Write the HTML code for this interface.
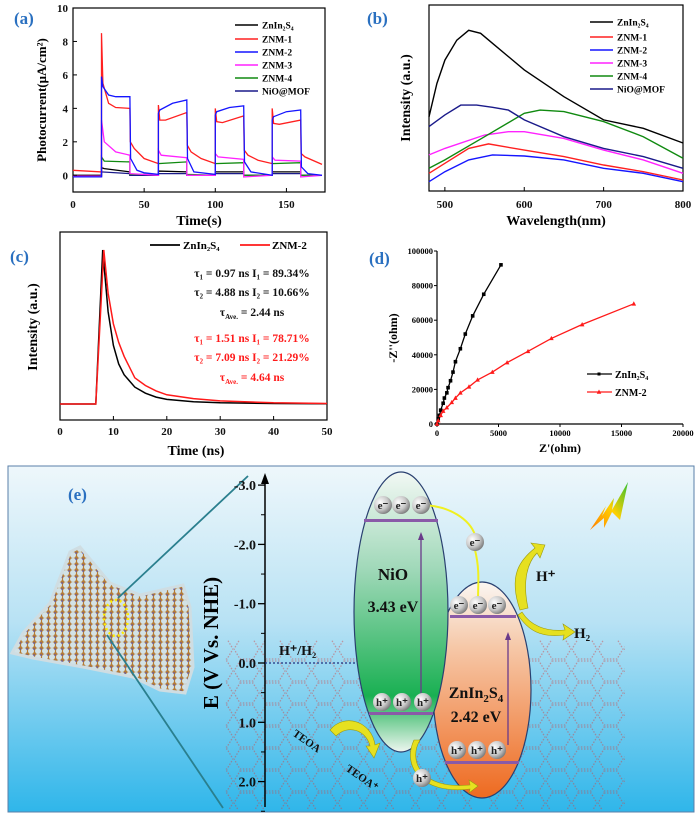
<!DOCTYPE html>
<html><head><meta charset="utf-8"><style>
html,body{margin:0;padding:0;background:#fff;}
svg{display:block;font-family:"Liberation Serif",serif;}
.t{font-weight:bold;font-size:11px;fill:#111;}
</style></head><body>
<svg id="fig" width="700" height="814" viewBox="0 0 700 814" xmlns="http://www.w3.org/2000/svg">
<defs>
<linearGradient id="bg" x1="0" y1="0" x2="0" y2="1"><stop offset="0" stop-color="#eef7fb"/><stop offset="0.45" stop-color="#b8e2f4"/><stop offset="1" stop-color="#2fb6ea"/></linearGradient>
<linearGradient id="nio" x1="0" y1="0" x2="0" y2="1"><stop offset="0" stop-color="#f2f8f4"/><stop offset="0.35" stop-color="#9fd8b8"/><stop offset="0.8" stop-color="#19b052"/><stop offset="1" stop-color="#eef6f0"/></linearGradient>
<linearGradient id="zis" x1="0" y1="0" x2="0" y2="1"><stop offset="0" stop-color="#faf6f2"/><stop offset="0.3" stop-color="#f6c8a8"/><stop offset="1" stop-color="#ee6a20"/></linearGradient>
<radialGradient id="ball" cx="0.35" cy="0.35" r="0.7"><stop offset="0" stop-color="#ffffff"/><stop offset="0.6" stop-color="#c8c8c8"/><stop offset="1" stop-color="#7a7a7a"/></radialGradient>
<linearGradient id="bolt" x1="0" y1="1" x2="1" y2="0"><stop offset="0" stop-color="#ff7a00"/><stop offset="0.5" stop-color="#ffd000"/><stop offset="1" stop-color="#30c030"/></linearGradient>
<pattern id="mesh" width="7" height="6" patternUnits="userSpaceOnUse"><rect width="7" height="6" fill="#b57b35"/><circle cx="3" cy="3" r="3" fill="#d2e2e6"/><circle cx="6" cy="1" r="0.8" fill="#4a4ac0"/></pattern>
<pattern id="mof" width="26" height="22" patternUnits="userSpaceOnUse"><polygon points="6,1 19,1 25,11 19,21 6,21 0,11" fill="none" stroke="#d04040" stroke-width="1.3" stroke-dasharray="1.5 1.5" opacity="0.75"/></pattern>
</defs>
<g id="pa"></g>
<g id="pb"></g>
<g id="pc"></g>
<g id="pd"></g>
<g id="pe">
<rect x="8" y="466" width="686" height="346" fill="url(#bg)" stroke="#5a7fa8" stroke-width="1"/>
<text x="68" y="500" fill="#2a70c0" font-size="17" font-weight="bold">(e)</text>
<polygon points="12,653 23,633 50,603 70,552 80,547 110,583 140,595 183,585 190,607 193,667 185,693 160,690 133,677 83,667 33,658" fill="url(#mesh)" stroke="#cfdde2" stroke-width="3"/>
<ellipse cx="116" cy="618" rx="12" ry="18" fill="none" stroke="#ffee00" stroke-width="2.5" stroke-dasharray="2 3"/>
<line x1="248" y1="476" x2="118" y2="598" stroke="#2a7f8e" stroke-width="1.8"/>
<line x1="107" y1="635" x2="223" y2="808" stroke="#2a7f8e" stroke-width="1.8"/>
<rect x="225" y="640" width="400" height="170" fill="url(#mof)" opacity="0.6"/>
<line x1="265" y1="807" x2="265" y2="480" stroke="#000" stroke-width="1.5"/>
<polygon points="265,473 261,484 269,484" fill="#000"/>
<g id="eticks"></g>
<text transform="translate(218,643) rotate(-90)" text-anchor="middle" font-size="21" font-weight="bold" fill="#000">E (V Vs. NHE)</text>
<line x1="265" y1="663" x2="360" y2="663" stroke="#203080" stroke-dasharray="2 2" stroke-width="1.2"/>
<text x="279" y="655" font-size="14" font-weight="bold" fill="#111">H⁺/H₂</text>
<ellipse cx="482" cy="690" rx="49" ry="108" fill="url(#zis)" stroke="#2a4070" stroke-width="1.2"/>
<ellipse cx="401" cy="612" rx="47" ry="140" fill="url(#nio)" stroke="#2a4070" stroke-width="1.2"/>
<rect x="364" y="519" width="74" height="3" fill="#8a5aa8"/>
<rect x="369" y="712" width="64" height="3" fill="#8a5aa8"/>
<rect x="450" y="615" width="66" height="3" fill="#8a5aa8"/>
<rect x="445" y="761" width="74" height="3" fill="#8a5aa8"/>
<line x1="421" y1="702" x2="421" y2="536" stroke="#6a3a8a" stroke-width="1.3"/>
<polygon points="421,532 418,540 424,540" fill="#6a3a8a"/>
<line x1="508" y1="745" x2="508" y2="637" stroke="#6a3a8a" stroke-width="1.3"/>
<polygon points="508,632 505,640 511,640" fill="#6a3a8a"/>
<path d="M420,505 C450,505 470,520 475,535 M475,550 C480,570 478,585 478,600" fill="none" stroke="#f0f020" stroke-width="2"/>
<path d="M520,610 C508,575 520,560 535,548 L531,543 L545,545 L540,558 L537,553 C528,562 522,580 528,608 Z" fill="#e6e020" stroke="#9a9a10" stroke-width="0.6"/>
<path d="M522,612 C530,625 545,632 565,630 L563,624 L575,632 L563,640 L564,635 C540,638 528,630 518,615 Z" fill="#e6e020" stroke="#9a9a10" stroke-width="0.6"/>
<path d="M330,730 C345,712 372,722 375,745 L380,743 L374,758 L366,746 L370,746 C366,730 348,724 336,736 Z" fill="#e6e020" stroke="#9a9a10" stroke-width="0.6"/>
<path d="M420,740 C408,760 420,790 470,785 L469,780 L478,786 L469,793 L470,789 C420,795 402,765 414,740 Z" fill="#e6e020" stroke="#9a9a10" stroke-width="0.6"/>
<g id="balls"></g>
<text x="393" y="580" text-anchor="middle" font-size="17" font-weight="bold" fill="#111">NiO</text>
<text x="393" y="612" text-anchor="middle" font-size="16" font-weight="bold" fill="#111">3.43 eV</text>
<text x="476" y="698" text-anchor="middle" font-size="16" font-weight="bold" fill="#111">ZnIn<tspan font-size="11" dy="4">2</tspan><tspan dy="-4">S</tspan><tspan font-size="11" dy="4">4</tspan></text>
<text x="476" y="722" text-anchor="middle" font-size="16" font-weight="bold" fill="#111">2.42 eV</text>
<text x="536" y="581" font-size="15" font-weight="bold" fill="#111">H⁺</text>
<text x="574" y="638" font-size="15" font-weight="bold" fill="#111">H₂</text>
<text transform="translate(292,735) rotate(35)" font-size="11" font-weight="bold" fill="#111">TEOA</text>
<text transform="translate(345,770) rotate(35)" font-size="11" font-weight="bold" fill="#111">TEOA⁺</text>
<polygon points="590,530 606,506 602,516 614,498 612,510 628,482 620,520 612,512 604,528 604,518" fill="url(#bolt)"/>
</g>
</svg>
<script>
var NS="http://www.w3.org/2000/svg";
function mk(p,tag,at){var e=document.createElementNS(NS,tag);for(var k in at)e.setAttribute(k,at[k]);p.appendChild(e);return e;}
function tx(p,x,y,s,at){var e=mk(p,'text',Object.assign({x:x,y:y},at||{}));e.textContent=s;return e;}

/* ---------- Panel (a) data ---------- */
var aNames=["ZnIn2S4","ZNM-1","ZNM-2","ZNM-3","ZNM-4","NiO@MOF"];
var aColors=["#000","#ff2020","#1515ff","#ff22ff","#108a10","#1a1a8a"];
var aT0=[0,20,20,22,40,40,60,60,80,80,100,100,120,120,140,140,160,160,175];
var aV0=[0,0,0.45,0.4,0.2,0,0,0.25,0.2,0,0,0.2,0.2,0,0,0.2,0.2,0,0];
var aT1=[0,20,20,21,25,30,40,40.3,43,50,60,60,61,65,80,80.3,83,90,100,100,101,105,120,120.3,123,130,140,140,141,145,160,160.3,163,175];
var aV1=[0.3,0.2,8.5,5.5,4.3,4.05,4.0,2.0,1.6,1.0,0.7,4.2,3.3,3.3,3.75,1.8,1.4,1.0,0.7,4.0,3.2,3.15,3.55,1.5,1.2,0.9,0.7,4.0,3.1,3.05,3.3,1.3,1.1,0.65];
var aT2=[0,20,20,21,25,30,40,40.5,45,50,60,60,61,70,80,80.5,85,100,100,101,110,120,120.5,125,140,140,141,150,160,160.5,165,175];
var aV2=[-0.1,-0.1,5.9,5.3,4.8,4.7,4.7,1.0,0.3,0.15,0.05,3.7,3.9,4.3,4.5,1.0,0.2,0.05,3.6,3.8,4.05,4.15,0.8,0.2,0.0,3.3,3.5,3.8,3.9,0.5,0.1,0.0];
var aT3=[0,20,20,22,30,40,40,60,60,62,80,80,100,100,102,120,120,140,140,142,160,160,175];
var aV3=[-0.05,-0.05,3.3,2.0,1.4,1.2,0.1,0.0,1.5,1.2,1.05,0.0,0.0,1.3,1.1,0.95,-0.1,0,1.1,0.9,0.85,-0.1,0];
var aT4=[0,20,20,22,40,40,60,60,80,80,100,100,120,120,140,140,160,160,175];
var aV4=[-0.05,-0.05,1.1,0.85,0.8,0.05,0.05,0.7,0.8,0.05,0,0.7,0.75,0,0,0.7,0.75,0,0];
var aT5=[0,20,20,40,40,60,60,80,80,100,100,120,120,140,140,160,160,175];
var aV5=[-0.1,-0.1,0.2,0.1,0,0,0.1,0.1,0,0,0.1,0.1,0,0,0.1,0.1,0,0];
var aXTicks=[0,50,100,150];
var aYTicks=[0,2,4,6,8,10];

/* ---------- Panel (b) data ---------- */
var bNames=["ZnIn2S4","ZNM-1","ZNM-2","ZNM-3","ZNM-4","NiO@MOF"];
var bColors=["#000","#ff2020","#1515ff","#ff22ff","#108a10","#1a1a8a"];
var bW0=[480,490,500,515,530,545,560,600,650,700,750,800];
var bI0=[39.9,57.8,70.4,81.1,86.4,84.8,79.4,65.1,50.7,38.2,33.7,25.8];
var bW1=[480,500,530,555,600,650,700,750,800];
var bI1=[9.5,14.9,22.9,25.3,22,18.5,14,10.4,5.9];
var bW2=[480,500,530,560,600,650,700,750,800];
var bI2=[5,10.4,16.7,19.4,18.8,16.7,12.2,9.5,5];
var bW3=[480,500,550,580,600,650,700,750,800];
var bI3=[19.4,22.9,30.1,31.9,31.9,28.3,22,16.7,9.5];
var bW4=[480,500,550,600,620,650,700,750,800];
var bI4=[12.2,16.7,29.2,41.8,43.5,42.7,37.3,29.2,17.6];
var bW5=[480,500,520,540,560,580,600,650,700,750,800];
var bI5=[34.6,40.9,46.2,46.2,45,43.5,38.2,29.2,22.9,18.5,12.2];
var bXTicks=[500,600,700,800];

/* ---------- Panel (c) data ---------- */
var cT0=[0,6.7,8,9,10,11,12,14,16,18,20,25,30,40,50];
var cI0=[0,0,100,60,38,26,19,11,7,4.5,3,1.5,0.8,0.3,0.2];
var cT1=[0,6.7,8.2,9,10,11,12,14,16,18,20,25,30,40,50];
var cI1=[0,0,100,72,52,40,31,17,12,8.5,6,3.5,2,0.8,0.3];
var cXTicks=[0,10,20,30,40,50];

/* ---------- Panel (d) data ---------- */
var dX0=[0,100,200,300,500,600,800,900,1100,1300,1500,1900,2300,2900,3800,5200];
var dY0=[0,3000,5000,8000,12000,15000,18000,21000,25000,30000,36000,43500,52000,62500,75000,92000];
var dX1=[0,100,300,500,800,1200,1500,1900,2600,3300,4500,5700,7400,9300,11800,16000];
var dY1=[0,2000,5000,7500,9500,12500,15000,18000,21500,25500,30000,35500,42000,49500,57500,69500];
var dXTicks=[0,5000,10000,15000,20000];
var dYTicks=[0,20000,40000,60000,80000,100000];

/* ---------- Panel (e) data ---------- */
var eTicks=[-3.0,-2.0,-1.0,0.0,1.0,2.0];

function pts(xs,ys,fx,fy){var s=[];for(var i=0;i<xs.length;i++)s.push(fx(xs[i]).toFixed(1)+","+fy(ys[i]).toFixed(1));return s.join(" ");}

/* Panel a */
(function(){
var g=document.getElementById('pa');
var L=73,R=325,T=8,B=192;
function X(t){return L+(t-0)/175*(R-L-3);}
function Y(v){return B-(v+1)/11*(B-T);}
var tail=tx(g,14,24,"(a)",{fill:"#2a70c0","font-size":17,"font-weight":"bold"});


var fr=mk(g,'rect',{x:L,y:T,width:R-L,height:B-T,fill:"none",stroke:"#000","stroke-width":1.2});


var Ts=[aT0,aT1,aT2,aT3,aT4,aT5],Vs=[aV0,aV1,aV2,aV3,aV4,aV5];
for(var s=5;s>=0;s--){var order=[0,5,4,3,1,2][5-s];
var pl=mk(g,'polyline',{points:pts(Ts[order],Vs[order],X,Y),fill:"none",stroke:aColors[order],"stroke-width":1.3});

}
aXTicks.forEach(function(t){mk(g,'line',{x1:X(t),y1:B,x2:X(t),y2:B-4,stroke:"#000"});
var e=tx(g,X(t),208,String(t),{"text-anchor":"middle","class":"t"});

});
aYTicks.forEach(function(v){mk(g,'line',{x1:L,y1:Y(v),x2:L+4,y2:Y(v),stroke:"#000"});
var e=tx(g,L-5,Y(v)+4,String(v),{"text-anchor":"end","class":"t"});

});
var xl=tx(g,199,225,"Time(s)",{"text-anchor":"middle","font-size":14,"font-weight":"bold"});


var yl=tx(g,0,0,"Photocurrent(μA/cm²)",{transform:"translate(46,100) rotate(-90)","text-anchor":"middle","font-size":13,"font-weight":"bold"});


var lys=[25,39,52,65,78,91];
aNames.forEach(function(n,i){
var ln=mk(g,'line',{x1:235,y1:lys[i],x2:258,y2:lys[i],stroke:aColors[i],"stroke-width":1.6});


var e=tx(g,262,lys[i]+3.5,n.replace("ZnIn2S4","ZnIn₂S₄"),{"font-size":9.5,"font-weight":"bold"});

});
})();

/* Panel b */
(function(){
var g=document.getElementById('pb');
var L=429,R=683,T=5,B=191;
function X(w){return L+(w-480)/320*(R-L);}
function Y(v){return B-v/100*(B-T);}
var lab=tx(g,367,24,"(b)",{fill:"#2a70c0","font-size":17,"font-weight":"bold"});


var fr=mk(g,'rect',{x:L,y:T,width:R-L,height:B-T,fill:"none",stroke:"#000","stroke-width":1.2});


var Ws=[bW0,bW1,bW2,bW3,bW4,bW5],Is=[bI0,bI1,bI2,bI3,bI4,bI5];
for(var i=0;i<6;i++){var pl=mk(g,'polyline',{points:pts(Ws[i],Is[i],X,Y),fill:"none",stroke:bColors[i],"stroke-width":1.4});

}
bXTicks.forEach(function(w){mk(g,'line',{x1:X(w),y1:B,x2:X(w),y2:B-4,stroke:"#000"});
var e=tx(g,X(w),208,String(w),{"text-anchor":"middle","class":"t"});

});
var xl=tx(g,556,225,"Wavelength(nm)",{"text-anchor":"middle","font-size":14,"font-weight":"bold"});


var yl=tx(g,0,0,"Intensity (a.u.)",{transform:"translate(410,98) rotate(-90)","text-anchor":"middle","font-size":14,"font-weight":"bold"});


var lys=[22,37,50,63,76,89];
bNames.forEach(function(n,i){
var ln=mk(g,'line',{x1:590,y1:lys[i],x2:613,y2:lys[i],stroke:bColors[i],"stroke-width":1.6});


var e=tx(g,617,lys[i]+3.5,n.replace("ZnIn2S4","ZnIn₂S₄"),{"font-size":9.5,"font-weight":"bold"});

});
})();

/* Panel c */
(function(){
var g=document.getElementById('pc');
var L=60,R=327,T=232,B=420,base=404,top=250;
function X(t){return L+t/50*(R-L);}
function Y(v){return base-v/100*(base-top);}
var lab=tx(g,10,262,"(c)",{fill:"#2a70c0","font-size":17,"font-weight":"bold"});


var fr=mk(g,'rect',{x:L,y:T,width:R-L,height:B-T,fill:"none",stroke:"#000","stroke-width":1.2});


var p0=mk(g,'polyline',{points:pts(cT0,cI0,X,Y),fill:"none",stroke:"#000","stroke-width":1.5});


var p1=mk(g,'polyline',{points:pts(cT1,cI1,X,Y),fill:"none",stroke:"#ff1a1a","stroke-width":1.5});


cXTicks.forEach(function(t){mk(g,'line',{x1:X(t),y1:B,x2:X(t),y2:B-4,stroke:"#000"});
var e=tx(g,X(t),435,String(t),{"text-anchor":"middle","class":"t"});

});
var xl=tx(g,196,455,"Time (ns)",{"text-anchor":"middle","font-size":14,"font-weight":"bold"});


var yl=tx(g,0,0,"Intensity (a.u.)",{transform:"translate(37,327) rotate(-90)","text-anchor":"middle","font-size":14,"font-weight":"bold"});


var l1=mk(g,'line',{x1:150,y1:245,x2:180,y2:245,stroke:"#000","stroke-width":1.8});


var t1=tx(g,183,249,"ZnIn₂S₄",{"font-size":11,"font-weight":"bold"});


var l2=mk(g,'line',{x1:240,y1:245,x2:270,y2:245,stroke:"#ff1a1a","stroke-width":1.8});


var t2=tx(g,272,249,"ZNM-2",{"font-size":11,"font-weight":"bold"});


var lines=[["τ₁ = 0.97 ns  I₁ = 89.34%",277,"#111"],["τ₂ = 4.88 ns  I₂ = 10.66%",296,"#111"],["τ_Ave. = 2.44 ns",316,"#111"],["τ₁ = 1.51 ns  I₁ = 78.71%",342,"#ff1a1a"],["τ₂ = 7.09 ns  I₂ = 21.29%",361,"#ff1a1a"],["τ_Ave. = 4.64 ns",381,"#ff1a1a"]];
lines.forEach(function(l){var e;
if(l[0].indexOf("τ_")===0){e=mk(g,'text',{x:252,y:l[1],"text-anchor":"middle","font-size":11.5,"font-weight":"bold",fill:l[2]});
var a=mk(e,'tspan',{});a.textContent="τ";var b=mk(e,'tspan',{"font-size":7,dy:3});b.textContent="Ave.";var c=mk(e,'tspan',{dy:-3});c.textContent=l[0].slice(6);}
else{e=tx(g,252,l[1],l[0],{"text-anchor":"middle","font-size":11.5,"font-weight":"bold",fill:l[2]});}

});
})();

/* Panel d */
(function(){
var g=document.getElementById('pd');
var L=437,R=683,T=251,B=424;
function X(v){return L+v/20000*(R-L);}
function Y(v){return B-v/100000*(B-T);}
var lab=tx(g,369,264,"(d)",{fill:"#2a70c0","font-size":17,"font-weight":"bold"});


var ax=mk(g,'polyline',{points:L+","+T+" "+L+","+B+" "+R+","+B,fill:"none",stroke:"#000","stroke-width":1.2});


dXTicks.forEach(function(v){mk(g,'line',{x1:X(v),y1:B,x2:X(v),y2:B+3,stroke:"#000"});
var e=tx(g,X(v),436,String(v),{"text-anchor":"middle","font-size":8.5,"font-weight":"bold"});

});
dYTicks.forEach(function(v){mk(g,'line',{x1:L,y1:Y(v),x2:L-3,y2:Y(v),stroke:"#000"});
var e=tx(g,L-4,Y(v)+3,String(v),{"text-anchor":"end","font-size":8.5,"font-weight":"bold"});

});
var xl=tx(g,560,452,"Z'(ohm)",{"text-anchor":"middle","font-size":12,"font-weight":"bold"});


var yl=tx(g,0,0,"-Z''(ohm)",{transform:"translate(397,338) rotate(-90)","text-anchor":"middle","font-size":12,"font-weight":"bold"});


var p0=mk(g,'polyline',{points:pts(dX0,dY0,X,Y),fill:"none",stroke:"#000","stroke-width":1.3});


var p1=mk(g,'polyline',{points:pts(dX1,dY1,X,Y),fill:"none",stroke:"#ff1a1a","stroke-width":1.3});


for(var i=0;i<dX0.length;i++){var m=mk(g,'rect',{x:X(dX0[i])-1.8,y:Y(dY0[i])-1.8,width:3.6,height:3.6,fill:"#000"});

}
for(var j=0;j<dX1.length;j++){var cx=X(dX1[j]),cy=Y(dY1[j]);
var q=mk(g,'polygon',{points:cx+","+(cy-2.5)+" "+(cx-2.3)+","+(cy+1.8)+" "+(cx+2.3)+","+(cy+1.8),fill:"#ff1a1a"});

}
var l1=mk(g,'line',{x1:587,y1:374,x2:612,y2:374,stroke:"#000","stroke-width":1.3});


mk(g,'rect',{x:597.5,y:372.5,width:3,height:3,fill:"#000"});
var t1=tx(g,615,378,"ZnIn₂S₄",{"font-size":10,"font-weight":"bold"});


var l2=mk(g,'line',{x1:587,y1:392,x2:612,y2:392,stroke:"#ff1a1a","stroke-width":1.3});


mk(g,'polygon',{points:"599,389.5 596.7,393.8 601.3,393.8",fill:"#ff1a1a"});
var t2=tx(g,615,396,"ZNM-2",{"font-size":10,"font-weight":"bold"});


})();

/* Panel e ticks & balls */
(function(){
var g=document.getElementById('eticks');
function Y(v){return 663+v*59.3;}
eTicks.forEach(function(v){mk(g,'line',{x1:265,y1:Y(v),x2:258,y2:Y(v),stroke:"#000","stroke-width":1.3});
mk(g,'line',{x1:265,y1:Y(v+0.5),x2:261,y2:Y(v+0.5),stroke:"#000"});
var e=tx(g,256,Y(v)+5,v.toFixed(1),{"text-anchor":"end","font-size":14,"font-weight":"bold",fill:"#111"});

});
var b=document.getElementById('balls');
var balls=[[383,505,"e⁻"],[401,505,"e⁻"],[421,505,"e⁻"],[459,605,"e⁻"],[478,605,"e⁻"],[497,605,"e⁻"],[475,542,"e⁻"],[382,702,"h⁺"],[402,702,"h⁺"],[423,702,"h⁺"],[457,750,"h⁺"],[477,750,"h⁺"],[497,750,"h⁺"],[422,778,"h⁺"]];
balls.forEach(function(p){var c=mk(b,'circle',{cx:p[0],cy:p[1],r:9,fill:"url(#ball)"});


var t=tx(b,p[0],p[1]+4,p[2],{"text-anchor":"middle","font-size":11,"font-weight":"bold",fill:"#222"});

});
})();
</script>
</body></html>
